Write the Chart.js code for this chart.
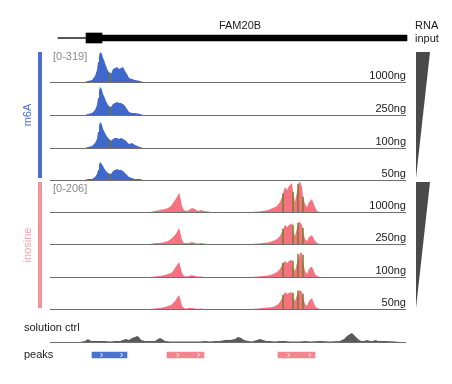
<!DOCTYPE html>
<html><head><meta charset="utf-8">
<script src="https://cdn.jsdelivr.net/npm/chart.js@4.4.1/dist/chart.umd.min.js"></script>
<style>
html,body{margin:0;padding:0;background:#fff;}
#wrap{position:relative;width:452px;height:384px;overflow:hidden;font-family:"Liberation Sans",Arial,sans-serif;font-size:11px;color:#1a1a1a;}
.t{position:absolute;white-space:nowrap;line-height:11px;}
canvas{position:absolute;}
.deco{position:absolute;}
</style></head><body><div id="wrap"></div>
<script>
// ---------- DATA ----------
const geneName = 'FAM20B';
const geneParts = ['intron', 'UTR exon', 'coding'];
const geneStart = [8, 36, 52];
const geneEnd = [36, 52, 357];

const sampleLabels = ['1000ng', '250ng', '100ng', '50ng'];

const m6aRange = '[0-319]';
const m6aMax = 319;
const m6aPos = [35,38,42,45,47,48,49,50,51,52,53,54,56,58,60,61,63,65,67,69,71,73,75,77,79,82,85,90,93];
const m6a1000 = [0,11,21,64,127,212,276,319,308,297,255,233,170,117,95,85,138,148,159,138,148,159,117,85,42,32,21,11,0];
const m6a250  = [0,11,21,53,106,181,255,298,287,266,223,202,149,106,85,85,117,128,138,128,128,117,96,64,32,21,21,11,0];
const m6a100  = [0,11,21,53,96,170,234,276,266,245,202,181,138,106,85,74,96,106,106,96,106,96,85,64,43,53,32,11,0];
const m6a50   = [0,11,11,32,64,106,159,191,181,181,149,128,96,74,64,64,96,106,117,106,106,96,74,53,32,21,11,11,0];
const m6aMismatchPos = [60];
const m6aMismatch = [[95], [85], [85], [64]];

const inoRange = '[0-206]';
const inoMax = 206;
const inoPos = [100,105,110,115,118,121,123,125,127,129,130,132,134,136,139,142,145,148,151,154,158,162,
  200,208,213,218,223,227,230,232,234,235,237,239,241,242,243,245,247,249,250,252,253,255,257,259,261,262,263,265,267,270];
const ino1000 = [0,7,14,21,27,41,62,82,103,131,110,41,14,7,14,27,21,7,14,7,3,0,
  0,3,7,14,27,41,69,103,151,172,151,179,192,199,137,69,137,206,206,172,103,55,34,69,82,89,69,34,7,0];
const ino250 = [0,7,7,14,21,34,48,62,82,110,89,27,7,7,7,14,7,3,7,3,0,0,
  0,3,7,10,21,34,55,82,117,131,117,131,137,144,96,55,110,151,151,131,82,34,21,48,55,62,48,21,7,0];
const ino100 = [0,3,7,14,21,27,41,62,82,103,82,27,7,3,7,14,7,3,3,0,0,0,
  0,3,7,10,21,34,55,82,103,110,96,110,117,117,69,41,96,137,165,165,103,41,21,55,69,69,55,21,7,0];
const ino50 = [0,3,7,14,21,27,41,55,76,96,76,21,7,3,7,7,3,0,3,0,0,0,
  0,3,7,10,14,27,48,76,103,117,103,110,117,110,82,55,96,124,131,117,82,34,21,55,69,76,55,21,7,0];
const inoMismatchPos = [233, 243, 248, 253];
const inoMismatch = [[124,137,192,103], [103,130,144,110], [96,110,158,151], [96,110,124,103]];

const ctrlLabel = 'solution ctrl';
const ctrlMax = 12;
const ctrlPos = [30,35,38,41,45,50,55,60,65,70,73,76,79,82,85,87,89,91,95,100,105,108,110,112,115,120,130,140,150,155,
  160,165,170,175,180,185,188,191,194,198,202,207,210,213,216,220,225,230,235,240,250,255,260,270,280,290,294,297,300,302,
  304,306,308,311,314,317,320,323,325,328,335,345,350];
const ctrlVal = [0,1,3,1,1,1,1,0.5,1,1,2,3,2,4,5,6,5,2,1,1,1,3,4,3,1,0.5,0.5,0.5,0.5,1,
  0.5,1,1,2,2,3,5,4,2,1,0.5,2,3,2,1,1,0.5,1,1,0.5,0.5,1,0.5,1,0.5,1,3,6,8,9,
  7,5,3,1,1,2,1,1,2,1,1,0.5,0];

const peakLabel = 'peaks';
const peakStart = [42, 117, 228];
const peakEnd = [77, 154, 265];
const peakType = ['m6A', 'inosine', 'inosine'];

const regionEnd = 356;

// ---------- STYLE ----------
const BLUE = '#3f67cc', PINK = 'rgb(245,115,128)';
const X_MAX = 360, LEFT = 50, WIDTH = 360;
const wrap = document.getElementById('wrap');

function pts(xs, ys) { return xs.map((x, i) => ({ x: x, y: ys[i] })); }
function addCanvas(top, h) {
  const c = document.createElement('canvas');
  c.width = WIDTH; c.height = h;
  c.style.left = LEFT + 'px'; c.style.top = top + 'px';
  c.style.width = WIDTH + 'px'; c.style.height = h + 'px';
  wrap.appendChild(c); return c;
}
function addText(txt, css) {
  const d = document.createElement('div');
  d.className = 't'; d.textContent = txt;
  Object.assign(d.style, css); wrap.appendChild(d); return d;
}
function addDeco(css) {
  const d = document.createElement('div'); d.className = 'deco';
  Object.assign(d.style, css); wrap.appendChild(d); return d;
}
function baseline(color) {
  return { id: 'baseline', afterDatasetsDraw(chart) {
    const { ctx, chartArea, scales } = chart;
    ctx.save(); ctx.strokeStyle = color; ctx.lineWidth = 1; ctx.beginPath();
    const y = chartArea.bottom + 0.5;
    ctx.moveTo(scales.x.getPixelForValue(0), y);
    ctx.lineTo(scales.x.getPixelForValue(regionEnd), y);
    ctx.stroke(); ctx.restore();
  } };
}
const baseOpts = (ymax) => ({
  responsive: false, animation: false, events: [],
  layout: { padding: { top: 0, bottom: 1, left: 0, right: 0 } },
  plugins: { legend: { display: false }, tooltip: { enabled: false } },
  scales: { x: { type: 'linear', min: 0, max: X_MAX, display: false, offset: false, grid: { offset: false } },
            y: { type: 'linear', min: 0, max: ymax, display: false } }
});

function track(baseY, height, ymax, xs, ys, color, mmX, mmY, label, lineColor) {
  const c = addCanvas(baseY - height, height + 1);
  const datasets = [{ type: 'line', label: label, data: pts(xs, ys), borderWidth: 0, borderColor: 'rgba(0,0,0,0)',
    backgroundColor: color, fill: 'origin', pointRadius: 0, tension: 0, order: 2 }];
  if (mmX) datasets.push({ type: 'bar', label: label + ' mismatch', data: pts(mmX, mmY),
    backgroundColor: 'rgba(115,125,35,0.9)', barThickness: 1, order: 1 });
  new Chart(c, { type: 'line', data: { datasets: datasets }, options: baseOpts(ymax), plugins: [baseline(lineColor)] });
}

// ---------- GENE MODEL ----------
(function () {
  const c = addCanvas(30, 16);
  const thick = [1, 10, 6];
  new Chart(c, { type: 'bar', data: { labels: [geneName],
    datasets: geneParts.map((p, i) => ({ label: p, data: [[geneStart[i], geneEnd[i]]], backgroundColor: i === 0 ? '#333' : '#000',
      barThickness: thick[i], grouped: false, borderWidth: 0 })) },
    options: Object.assign(baseOpts(1), { indexAxis: 'y', layout: { padding: 0 },
      scales: { x: { type: 'linear', min: 0, max: X_MAX, display: false, offset: false }, y: { type: 'category', display: false } } }) });
})();
addText(geneName, { left: '200px', width: '80px', textAlign: 'center', top: '20px' });
addText('RNA', { left: '415px', top: '20px' });
addText('input', { left: '415px', top: '33px' });

// ---------- m6A ----------
const m6aSets = [m6a1000, m6a250, m6a100, m6a50];
const m6aBase = [82, 115, 148, 180];
m6aSets.forEach((v, i) => {
  track(m6aBase[i], 30, m6aMax, m6aPos, v, BLUE, m6aMismatchPos, m6aMismatch[i], 'm6A ' + sampleLabels[i], '#6e6e6e');
  addText(sampleLabels[i], { right: '46px', top: (m6aBase[i] - 12) + 'px' });
});
addText(m6aRange, { left: '53px', top: '51px', color: '#8a8a8a' });
addDeco({ left: '38px', top: '52px', width: '4px', height: '126px', background: '#4a6fd0' });
addText('m6A', { left: '27px', top: '115px', color: '#4a6fd0', transform: 'translate(-50%,-50%) rotate(-90deg)' });
addDeco({ left: '416px', top: '52px', width: '14px', height: '126px', background: '#4a4a4a', clipPath: 'polygon(0 0,100% 0,0 100%)' });

// ---------- inosine ----------
const inoSets = [ino1000, ino250, ino100, ino50];
const inoBase = [212, 244, 277, 309];
inoSets.forEach((v, i) => {
  track(inoBase[i], 30, inoMax, inoPos, v, PINK, inoMismatchPos, inoMismatch[i], 'inosine ' + sampleLabels[i], '#6e6e6e');
  addText(sampleLabels[i], { right: '46px', top: (inoBase[i] - 12) + 'px' });
});
addText(inoRange, { left: '53px', top: '183px', color: '#8a8a8a' });
addDeco({ left: '38px', top: '182px', width: '4px', height: '126px', background: '#f4939e' });
addText('inosine', { left: '27px', top: '245px', color: '#f4a3ab', transform: 'translate(-50%,-50%) rotate(-90deg)' });
addDeco({ left: '416px', top: '182px', width: '14px', height: '126px', background: '#4a4a4a', clipPath: 'polygon(0 0,100% 0,0 100%)' });

// ---------- solution ctrl ----------
track(342, 12, ctrlMax, ctrlPos, ctrlVal, '#5a5a5a', null, null, ctrlLabel, '#6e6e6e');
addText(ctrlLabel, { left: '24px', top: '322px' });

// ---------- peaks ----------
(function () {
  const c = addCanvas(348, 14);
  const chev = { id: 'chev', afterDatasetsDraw(chart) {
    const ctx = chart.ctx; const meta = chart.getDatasetMeta(0);
    ctx.save(); ctx.strokeStyle = 'rgba(255,255,255,0.95)'; ctx.lineWidth = 1;
    meta.data.forEach(el => {
      const p = el.getProps(['x', 'base', 'y'], true);
      const a = Math.min(p.x, p.base), b = Math.max(p.x, p.base);
      [0.27, 0.84].forEach(f => {
        const cx = Math.round(a + (b - a) * f) + 0.5;
        ctx.beginPath(); ctx.moveTo(cx - 1, p.y - 2); ctx.lineTo(cx + 1, p.y); ctx.lineTo(cx - 1, p.y + 2); ctx.stroke();
      });
    });
    ctx.restore();
  } };
  new Chart(c, { type: 'bar', data: { labels: peakStart.map((s, i) => peakType[i] + ' peak ' + (i + 1)),
    datasets: [{ label: peakLabel, data: peakStart.map((s, i) => ({ x: [s, peakEnd[i]], y: peakLabel })),
      backgroundColor: peakType.map(t => t === 'm6A' ? '#4a72d0' : '#f2868f'), barThickness: 6, borderWidth: 0 }] },
    options: Object.assign(baseOpts(1), { indexAxis: 'y', layout: { padding: 0 },
      scales: { x: { type: 'linear', min: 0, max: X_MAX, display: false, offset: false }, y: { type: 'category', labels: [peakLabel], display: false } } }),
    plugins: [chev] });
})();
addText(peakLabel, { left: '24px', top: '349px' });
</script></body></html>
